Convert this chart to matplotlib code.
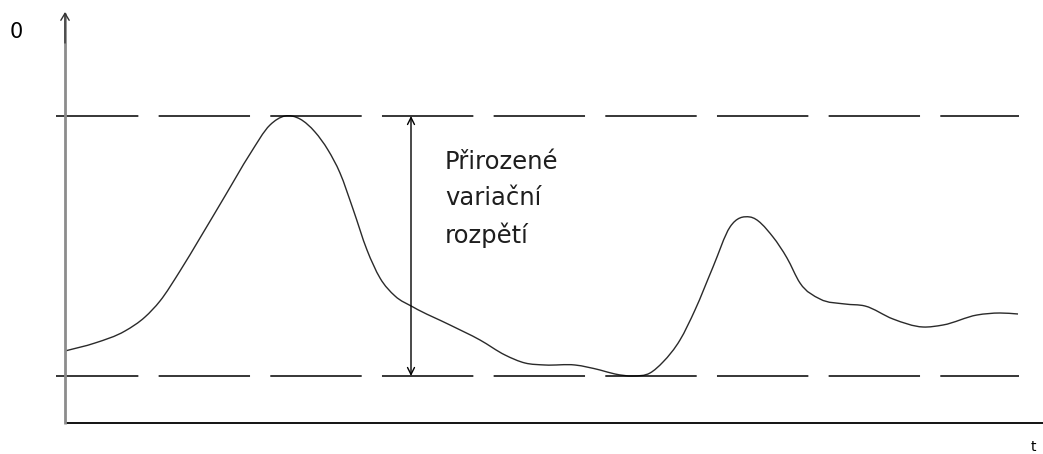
import numpy as np
import matplotlib
matplotlib.use("Agg")
import matplotlib.pyplot as plt
from matplotlib.path import Path
from matplotlib.patches import PathPatch

plt.rcParams['lines.scale_dashes'] = False

t_vals = [0.0, 3.0, 6.0, 8.0, 9.5, 11.5, 13.5, 16.0, 18.5, 20.5, 22.0, 23.5,
          25.0, 26.3, 27.5, 28.8, 30.2, 31.5, 33.0, 34.8, 38.5, 41.5, 44.0,
          46.0, 48.0, 51.0, 53.5, 55.0, 56.8, 58.5, 59.8, 61.5, 63.0, 64.8,
          66.5, 68.5, 70.8, 72.2, 73.5, 75.5, 78.0, 80.0, 82.8, 85.8, 87.8,
          91.2, 93.5, 95.3]
o_vals = [7.2, 8.0, 9.2, 10.6, 12.2, 15.2, 18.5, 22.7, 26.9, 29.8, 30.7, 30.4,
          29.1, 27.3, 25.0, 21.4, 17.3, 14.5, 12.7, 11.6, 9.8, 8.3, 6.8,
          6.0, 5.8, 5.8, 5.3, 4.9, 4.7, 5.0, 6.1, 8.3, 11.3, 15.6,
          19.6, 20.6, 18.6, 16.5, 14.0, 12.4, 11.9, 11.7, 10.4, 9.6, 9.8,
          10.8, 11.0, 10.9]
upper_limit = 30.7
lower_limit = 4.7
range_label = "Přirozené\nvariační\nrozpětí"
y_label = "0"
x_label = "t"

W, H = 1043, 454
fig = plt.figure(figsize=(W / 100, H / 100), dpi=100)
ax = fig.add_axes([0, 0, 1, 1])
ax.set_xlim(-6.5, (W - 65) / 10)
ax.set_ylim(-(H - 423) / 10, 42.3)
ax.axis('off')

# dashed range lines
dash_style = (6.5, (65.8, 14.6))
for lvl in (upper_limit, lower_limit):
    ax.plot([-0.9, 95.4], [lvl, lvl], color='black', lw=1.1,
            linestyle=dash_style, solid_capstyle='butt', dash_capstyle='butt')

# smooth curve through the data points (cubic Hermite drawn as Bezier segments)
t = np.asarray(t_vals, float)
o = np.asarray(o_vals, float)
n = len(t)
h = np.diff(t)
d = np.diff(o) / h
m = np.empty(n)
m[0], m[-1] = d[0], d[-1]
for i in range(1, n - 1):
    m[i] = (d[i] * h[i - 1] + d[i - 1] * h[i]) / (h[i - 1] + h[i])
verts = [(t[0], o[0])]
codes = [Path.MOVETO]
for i in range(n - 1):
    verts += [(t[i] + h[i] / 3, o[i] + m[i] * h[i] / 3),
              (t[i + 1] - h[i] / 3, o[i + 1] - m[i + 1] * h[i] / 3),
              (t[i + 1], o[i + 1])]
    codes += [Path.CURVE4] * 3
ax.add_patch(PathPatch(Path(verts, codes), facecolor='none',
                       edgecolor='#2a2a2a', lw=1.0))

# axes
ax.plot([0, (W - 65) / 10], [0, 0], color='black', lw=1.3, solid_capstyle='butt')
ax.plot([0, 0], [-0.1, 41.0], color='#8c8c8c', lw=2.0, solid_capstyle='butt')
ax.annotate('', xy=(0, 41.1), xytext=(0, 38.0),
            arrowprops=dict(arrowstyle='->,head_length=0.5,head_width=0.3',
                            color='#333333', lw=1.0, shrinkA=0, shrinkB=0))

# double arrow for the range
ax.annotate('', xy=(34.6, upper_limit), xytext=(34.6, lower_limit),
            arrowprops=dict(arrowstyle='<->,head_length=0.5,head_width=0.25',
                            color='black', lw=1.0, shrinkA=0, shrinkB=0))

ax.text(38.0, (423 - 150) / 10, range_label, fontsize=17.5, family='DejaVu Sans',
        color='#1e1e1e', ha='left', va='top', linespacing=1.62)
ax.text(-4.9, (423 - 32) / 10, y_label, fontsize=15, family='DejaVu Sans',
        color='black', ha='center', va='center')
ax.text(96.8, (423 - 447) / 10, x_label, fontsize=10, family='DejaVu Sans',
        color='black', ha='center', va='center')

fig.savefig('out.png', dpi=100)
